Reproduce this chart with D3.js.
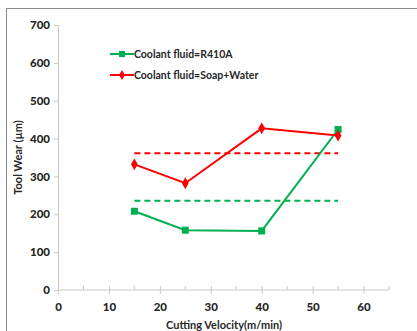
<!DOCTYPE html>
<html><head><meta charset="utf-8">
<script src="https://cdn.jsdelivr.net/npm/d3@7"></script>
<style>body{margin:0;background:#fff}svg{display:block}</style>
</head><body>
<script>
const velocity = [15, 25, 40, 55];
const wearR410A = [208, 158, 156, 424];
const wearSoap = [332, 282, 427, 408];
const avgR410A = 236;
const avgSoap = 361;
const xTicks = [0, 10, 20, 30, 40, 50, 60];
const yTicks = [0, 100, 200, 300, 400, 500, 600, 700];
const seriesNames = ["Coolant fluid=R410A", "Coolant fluid=Soap+Water"];

const W = 417, H = 331;
const svg = d3.select("body").append("svg").attr("width", W).attr("height", H);
const font = "Lato, 'Open Sans', sans-serif";

// outer border (top and left)
svg.append("line").attr("x1", 6).attr("x2", W).attr("y1", 8.5).attr("y2", 8.5).attr("stroke", "#8c8c8c");
svg.append("line").attr("x1", 6.5).attr("x2", 6.5).attr("y1", 8).attr("y2", H).attr("stroke", "#8c8c8c");

const x = d3.scaleLinear().domain([0, 65]).range([58, 389]);
const y = d3.scaleLinear().domain([0, 700]).range([290, 25]);

// y axis
const ya = svg.append("g").attr("transform", `translate(${x(0)},0)`)
  .call(d3.axisLeft(y).tickValues(yTicks).tickSize(4).tickPadding(4));
ya.select(".domain").attr("stroke", "#c8c8c8");
ya.selectAll(".tick line").attr("stroke", "#c8c8c8");
ya.selectAll("text").attr("font-family", font).attr("font-weight", "900").attr("font-size", 11.5).attr("fill", "#262626");

// x axis
const xa = svg.append("g").attr("transform", `translate(0,${y(0)})`)
  .call(d3.axisBottom(x).tickValues(xTicks).tickSize(4).tickPadding(9));
xa.select(".domain").attr("stroke", "#c8c8c8").attr("d", `M${x(0)},0H${x(65)}`);
xa.selectAll(".tick line").attr("stroke", "#c8c8c8").attr("y1", -4).attr("y2", 4);
xa.selectAll("text").attr("font-family", font).attr("font-weight", "900").attr("font-size", 11.5).attr("fill", "#262626");
const minor = [5, 15, 25, 35, 45, 55, 65];
xa.selectAll(".minor").data(minor).enter().append("line")
  .attr("x1", d => x(d)).attr("x2", d => x(d)).attr("y1", -4).attr("y2", 0).attr("stroke", "#c8c8c8");

// axis titles
svg.append("text").attr("x", 224).attr("y", 329).attr("text-anchor", "middle")
  .attr("font-family", font).attr("font-weight", "bold").attr("font-size", 11).attr("fill", "#262626")
  .text("Cutting Velocity(m/min)");
svg.append("text").attr("transform", `translate(22,${(y(0) + y(700)) / 2}) rotate(-90)`).attr("text-anchor", "middle")
  .attr("font-family", font).attr("font-weight", "bold").attr("font-size", 11).attr("fill", "#262626")
  .text("Tool Wear (µm)");

// dashed averages
const dashes = [{v: avgR410A, c: "#00b050"}, {v: avgSoap, c: "#ff0000"}];
svg.selectAll(".avg").data(dashes).enter().append("line")
  .attr("x1", x(15)).attr("x2", x(55)).attr("y1", d => y(d.v)).attr("y2", d => y(d.v))
  .attr("stroke", d => d.c).attr("stroke-width", 2).attr("stroke-dasharray", "6,4");

const line = d3.line().x(d => x(d[0])).y(d => y(d[1]));
const green = velocity.map((v, i) => [v, wearR410A[i]]);
const red = velocity.map((v, i) => [v, wearSoap[i]]);

svg.append("path").attr("d", line(green)).attr("fill", "none").attr("stroke", "#00b050").attr("stroke-width", 2);
svg.selectAll(".gm").data(green).enter().append("rect")
  .attr("x", d => x(d[0]) - 3.5).attr("y", d => y(d[1]) - 3.5).attr("width", 7).attr("height", 7).attr("fill", "#00b050");

svg.append("path").attr("d", line(red)).attr("fill", "none").attr("stroke", "#ff0000").attr("stroke-width", 2);
const diamond = d3.symbol().type(d3.symbolDiamond).size(40);
svg.selectAll(".rm").data(red).enter().append("path")
  .attr("d", diamond).attr("transform", d => `translate(${x(d[0])},${y(d[1])})`).attr("fill", "#ff0000");

// legend
const leg = [{name: seriesNames[0], c: "#00b050", sym: "square", yy: 54}, {name: seriesNames[1], c: "#ff0000", sym: "diamond", yy: 75}];
leg.forEach(l => {
  svg.append("line").attr("x1", 110).attr("x2", 134).attr("y1", l.yy).attr("y2", l.yy).attr("stroke", l.c).attr("stroke-width", 2);
  if (l.sym === "square") svg.append("rect").attr("x", 119).attr("y", l.yy - 3).attr("width", 6).attr("height", 6).attr("fill", l.c);
  else svg.append("path").attr("d", d3.symbol().type(d3.symbolDiamond).size(30)).attr("transform", `translate(122,${l.yy})`).attr("fill", l.c);
  svg.append("text").attr("x", 134).attr("y", l.yy + 4).attr("font-family", font).attr("font-weight", "bold")
    .attr("font-size", 10.5).attr("fill", "#262626").text(l.name);
});
</script>
</body></html>
